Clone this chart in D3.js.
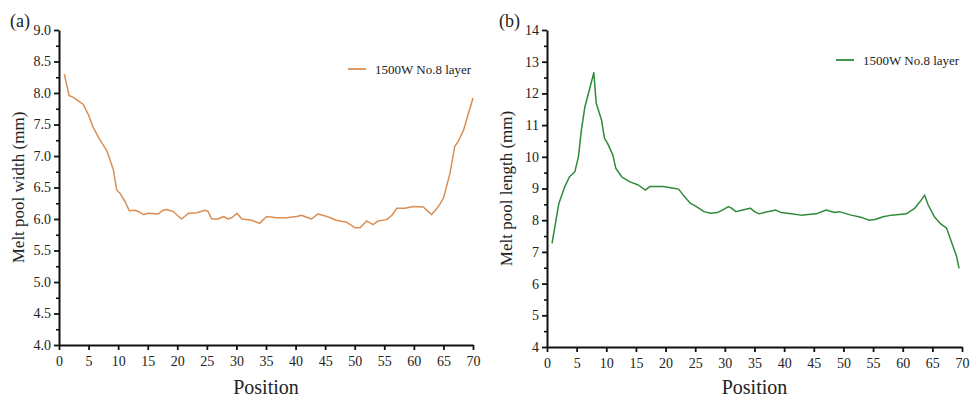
<!DOCTYPE html>
<html>
<head>
<meta charset="utf-8">
<script src="https://cdn.jsdelivr.net/npm/d3@7"></script>
<style>
  body { margin: 0; background: #fff; }
  .axis path, .axis line { stroke: #111; }
</style>
</head>
<body>
<div id="chart"></div>
<script>
// Data
// =========================

// (a) melt pool width vs position
var widthPos = [0.9, 1.7, 2.4, 4.1, 5.0, 5.8, 6.9, 8.1, 9.2, 9.75, 10.3, 11.2, 11.9, 12.85, 13.4,
  14.3, 15.1, 16.8, 17.6, 18.2, 19.3, 20.7, 21.9, 23.3, 24.7, 25.2, 25.8, 26.9, 27.8, 28.6,
  29.2, 30.1, 30.9, 32.6, 33.9, 35.1, 36.8, 38.5, 40.2, 41.0, 42.7, 43.8, 45.3, 46.9, 48.6,
  50.1, 50.9, 52.0, 53.1, 54.0, 55.4, 56.3, 57.1, 58.5, 59.9, 61.6, 63.0, 64.1, 65.0, 66.1,
  66.9, 67.5, 68.4, 70.0];
var widthVals = [8.30, 7.96, 7.93, 7.82, 7.65, 7.45, 7.26, 7.08, 6.78, 6.46, 6.41, 6.27, 6.13, 6.14, 6.12,
  6.07, 6.09, 6.08, 6.14, 6.15, 6.12, 6.00, 6.09, 6.10, 6.14, 6.12, 6.00, 6.00, 6.04, 6.00,
  6.02, 6.09, 6.00, 5.98, 5.93, 6.04, 6.02, 6.02, 6.04, 6.06, 6.00, 6.08, 6.04, 5.98, 5.95,
  5.86, 5.86, 5.97, 5.91, 5.97, 5.99, 6.06, 6.17, 6.17, 6.20, 6.19, 6.07, 6.19, 6.33, 6.72,
  7.15, 7.23, 7.41, 7.92];

// (b) melt pool length vs position
var lengthPos = [0.85, 2.0, 3.0, 3.8, 4.7, 5.3, 5.8, 6.4, 7.9, 8.3, 9.2, 9.7, 10.2, 11.1, 11.6,
  12.6, 14.0, 15.4, 16.6, 17.3, 19.6, 21.6, 22.2, 23.0, 24.2, 25.0, 26.5, 27.6, 28.7, 29.6,
  30.6, 31.1, 31.9, 33.0, 34.3, 35.0, 35.8, 37.2, 38.6, 39.5, 41.2, 42.8, 45.4, 47.1, 48.5,
  49.3, 51.3, 53.0, 54.4, 55.3, 56.7, 58.1, 60.6, 62.0, 62.9, 63.7, 64.3, 65.4, 66.3, 67.4,
  68.3, 69.1, 69.5];
var lengthVals = [7.27, 8.53, 9.06, 9.37, 9.53, 10.0, 10.84, 11.58, 12.65, 11.69, 11.16, 10.58, 10.43, 10.06, 9.64,
  9.37, 9.21, 9.11, 8.95, 9.06, 9.06, 9.0, 8.98, 8.79, 8.53, 8.45, 8.27, 8.22, 8.24, 8.32,
  8.43, 8.38, 8.27, 8.32, 8.38, 8.27, 8.20, 8.27, 8.32, 8.24, 8.20, 8.16, 8.20, 8.32, 8.24,
  8.27, 8.16, 8.09, 8.00, 8.02, 8.11, 8.16, 8.20, 8.37, 8.58, 8.79, 8.48, 8.09, 7.90, 7.75,
  7.27, 6.85, 6.48];

// tick labels
var xTicks = d3.range(0, 71, 5);
var widthTicks = [4.0, 4.5, 5.0, 5.5, 6.0, 6.5, 7.0, 7.5, 8.0, 8.5, 9.0];
var lengthTicks = [4, 5, 6, 7, 8, 9, 10, 11, 12, 13, 14];

var legendLabel = "1500W No.8 layer";
var xTitle = "Position";

var serif = "'Liberation Serif', 'Times New Roman', Times, 'Nimbus Roman', 'DejaVu Serif', serif";

// Canvas
// ======
var svg = d3.select("#chart")
  .append("svg")
  .attr("width", 979)
  .attr("height", 402);

// draw one panel
function drawPanel(opt) {
  var x = d3.scaleLinear().domain([0, 70]).range([opt.left, opt.right]);
  var y = d3.scaleLinear().domain(opt.yDomain).range([opt.bottom, opt.top]);

  var g = svg.append("g");

  // minor y ticks (half way between majors)
  var minor = [];
  for (var i = 0; i < opt.yTicks.length - 1; i++) {
    minor.push((opt.yTicks[i] + opt.yTicks[i + 1]) / 2);
  }
  g.append("g")
    .attr("class", "axis")
    .attr("transform", "translate(" + opt.left + ",0)")
    .call(d3.axisLeft(y).tickValues(minor).tickSize(3).tickFormat(""))
    .call(function(a) { a.select(".domain").remove(); })
    .selectAll("line").attr("stroke-width", 1.6);

  // y axis
  var yAxis = g.append("g")
    .attr("class", "axis")
    .attr("transform", "translate(" + opt.left + ",0)")
    .call(d3.axisLeft(y).tickValues(opt.yTicks).tickSize(5).tickSizeOuter(0)
      .tickPadding(3).tickFormat(opt.yFormat));
  yAxis.select(".domain").attr("stroke-width", 2);
  yAxis.selectAll("line").attr("stroke-width", 1.8);
  yAxis.selectAll("text").attr("font-size", 14);

  // x axis
  var xAxis = g.append("g")
    .attr("class", "axis")
    .attr("transform", "translate(0," + opt.bottom + ")")
    .call(d3.axisBottom(x).tickValues(xTicks).tickSize(5).tickSizeOuter(0).tickPadding(6));
  xAxis.select(".domain").attr("stroke-width", 2);
  xAxis.selectAll("line").attr("stroke-width", 1.8);
  xAxis.selectAll("text").attr("font-size", 14);

  // the curve
  var pts = opt.xs.map(function(d, i) { return [d, opt.ys[i]]; });
  g.append("path")
    .datum(pts)
    .attr("fill", "none")
    .attr("stroke", opt.color)
    .attr("stroke-width", 1.5)
    .attr("stroke-linejoin", "round")
    .attr("d", d3.line()
      .x(function(d) { return x(d[0]); })
      .y(function(d) { return y(d[1]); }));

  // legend
  g.append("line")
    .attr("x1", opt.legX).attr("x2", opt.legX + 18)
    .attr("y1", opt.legY).attr("y2", opt.legY)
    .attr("stroke", opt.color).attr("stroke-width", 1.8);
  g.append("text")
    .attr("x", opt.legX + 27).attr("y", opt.legY + 4.5)
    .attr("font-size", 13)
    .text(legendLabel);

  // axis titles
  g.append("text")
    .attr("x", (opt.left + opt.right) / 2)
    .attr("y", 394)
    .attr("text-anchor", "middle")
    .attr("font-size", 20)
    .text(xTitle);

  g.append("text")
    .attr("transform", "translate(" + opt.titleX + "," + ((opt.top + opt.bottom) / 2) + ")rotate(-90)")
    .attr("text-anchor", "middle")
    .attr("font-size", 17)
    .text(opt.yTitle);

  // panel tag
  g.append("text")
    .attr("x", opt.tagX).attr("y", 27)
    .attr("font-size", 18)
    .text(opt.tag);
}

drawPanel({
  left: 59, right: 473, top: 30, bottom: 345,
  yDomain: [4, 9], yTicks: widthTicks, yFormat: d3.format(".1f"),
  xs: widthPos, ys: widthVals, color: "#d98f55",
  legX: 348, legY: 69,
  titleX: 24, yTitle: "Melt pool width (mm)",
  tagX: 10, tag: "(a)"
});

drawPanel({
  left: 547, right: 962, top: 30, bottom: 347,
  yDomain: [4, 14], yTicks: lengthTicks, yFormat: d3.format("d"),
  xs: lengthPos, ys: lengthVals, color: "#2e8b3a",
  legX: 836, legY: 60,
  titleX: 512, yTitle: "Melt pool length (mm)",
  tagX: 499, tag: "(b)"
});

// serif everywhere, set on each text so the axis defaults don't win
svg.selectAll("text")
  .attr("font-family", serif)
  .attr("fill", "#222");
</script>
</body>
</html>
